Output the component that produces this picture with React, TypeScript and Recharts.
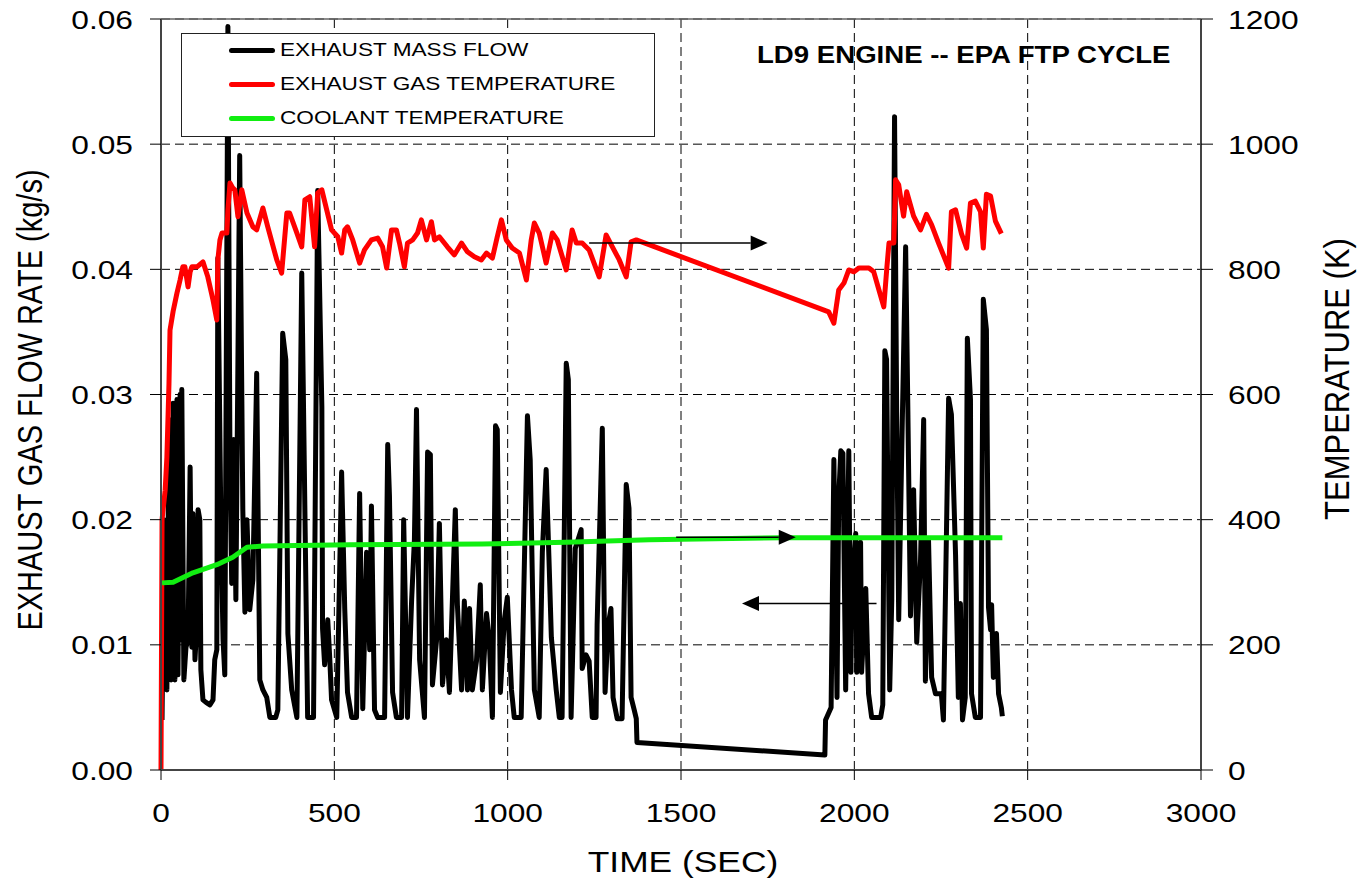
import {
  LineChart,
  Line,
  XAxis,
  YAxis,
  CartesianGrid,
  Legend,
  ReferenceLine,
} from "recharts";

// time (s) vs exhaust mass flow (kg/s)
const massFlow: [number, number][] = [
  [3, 0.004], [6, 0.012], [9, 0.02], [12, 0.0072], [14, 0.0168], [17, 0.0064],
  [23, 0.028], [29, 0.0072], [35, 0.0293], [37, 0.0104], [40, 0.0072], [46, 0.0296],
  [49, 0.0076], [55, 0.03], [58, 0.0104], [60, 0.0304], [66, 0.0072], [72, 0.0098],
  [78, 0.0104], [84, 0.0242], [89, 0.0098], [92, 0.0205], [98, 0.0088], [101, 0.0104],
  [107, 0.0208], [112, 0.02], [115, 0.008], [121, 0.0056], [130, 0.0054], [141, 0.0052],
  [150, 0.0056], [155, 0.0088], [161, 0.0096], [164, 0.0409], [173, 0.0192], [179, 0.0104],
  [184, 0.0076], [193, 0.0594], [199, 0.024], [204, 0.0149], [210, 0.0264], [216, 0.0136],
  [227, 0.0491], [236, 0.0208], [242, 0.0126], [248, 0.02], [256, 0.0128], [265, 0.0152],
  [276, 0.0317], [285, 0.0072], [294, 0.0064], [305, 0.0058], [314, 0.0042], [331, 0.0042],
  [337, 0.0048], [351, 0.0349], [360, 0.0328], [366, 0.0109], [377, 0.0064], [392, 0.0042],
  [406, 0.0397], [423, 0.0042], [440, 0.0042], [452, 0.0463], [464, 0.029], [466, 0.0113],
  [472, 0.0084], [481, 0.012], [487, 0.0088], [492, 0.0056], [507, 0.0042], [521, 0.0238],
  [530, 0.0129], [538, 0.0062], [550, 0.0042], [564, 0.0042], [573, 0.0221], [582, 0.0049],
  [593, 0.0174], [602, 0.0096], [607, 0.0211], [616, 0.0048], [625, 0.0042], [645, 0.0042],
  [654, 0.026], [659, 0.0219], [668, 0.0062], [679, 0.0042], [694, 0.0042], [700, 0.02],
  [711, 0.0042], [723, 0.0136], [731, 0.0184], [737, 0.0288], [746, 0.0088], [760, 0.0042],
  [769, 0.0254], [777, 0.0252], [783, 0.0068], [795, 0.0104], [803, 0.0197], [812, 0.0068],
  [823, 0.0104], [832, 0.0062], [849, 0.0208], [855, 0.0132], [867, 0.0064], [875, 0.0135],
  [884, 0.0064], [890, 0.0129], [898, 0.0064], [910, 0.0087], [921, 0.0148], [927, 0.0064],
  [939, 0.0125], [947, 0.0104], [956, 0.0042], [965, 0.0275], [970, 0.0272], [979, 0.0062],
  [990, 0.0119], [999, 0.0138], [1011, 0.0064], [1019, 0.0042], [1039, 0.0042], [1057, 0.0283],
  [1065, 0.0248], [1077, 0.0064], [1091, 0.0042], [1100, 0.0174], [1111, 0.024], [1120, 0.0161],
  [1126, 0.0106], [1140, 0.0064], [1149, 0.0042], [1157, 0.0042], [1169, 0.0325], [1175, 0.0312],
  [1183, 0.0042], [1195, 0.0177], [1212, 0.0192], [1215, 0.0081], [1226, 0.0092], [1235, 0.0087],
  [1244, 0.0042], [1255, 0.0042], [1258, 0.0116], [1273, 0.0273], [1281, 0.0062], [1290, 0.0116],
  [1298, 0.0129], [1304, 0.0058], [1316, 0.0041], [1330, 0.0041], [1342, 0.0228], [1350, 0.0209],
  [1356, 0.0058], [1365, 0.0048], [1371, 0.0041], [1373, 0.0022], [1915, 0.0012], [1917, 0.004],
  [1933, 0.005], [1941, 0.0248], [1950, 0.0058], [1955, 0.0218], [1961, 0.0255], [1967, 0.0253],
  [1975, 0.0064], [1984, 0.0255], [1990, 0.0078], [1993, 0.0144], [2004, 0.0189], [2007, 0.0078],
  [2018, 0.0182], [2021, 0.0078], [2033, 0.0145], [2041, 0.0061], [2050, 0.0042], [2076, 0.0042],
  [2082, 0.0052], [2088, 0.0335], [2093, 0.0328], [2102, 0.0064], [2108, 0.0136], [2116, 0.0522],
  [2122, 0.0292], [2128, 0.012], [2137, 0.0258], [2148, 0.0418], [2154, 0.0296], [2162, 0.0123],
  [2171, 0.0224], [2180, 0.0102], [2191, 0.0168], [2200, 0.028], [2205, 0.0071], [2214, 0.0184],
  [2223, 0.0074], [2234, 0.0061], [2251, 0.0061], [2257, 0.004], [2272, 0.0297], [2280, 0.0284],
  [2292, 0.0172], [2300, 0.0058], [2306, 0.0133], [2312, 0.004], [2320, 0.0058], [2326, 0.0345],
  [2335, 0.0296], [2338, 0.0061], [2349, 0.0042], [2364, 0.0042], [2372, 0.0376], [2381, 0.0352],
  [2387, 0.013], [2393, 0.0112], [2396, 0.0132], [2401, 0.0074], [2410, 0.0109], [2416, 0.0061],
  [2424, 0.005], [2427, 0.0043],
];

// time (s) vs exhaust gas temperature (K)
const gasTemp: [number, number][] = [
  [0, 0], [3, 400], [12, 447], [17, 500], [23, 617], [26, 703], [35, 733], [46, 762],
  [55, 783], [63, 804], [69, 804], [78, 772], [84, 796], [89, 804], [104, 804], [121, 812],
  [135, 788], [150, 751], [161, 719], [164, 815], [170, 847], [176, 858], [190, 858], [193, 895],
  [199, 938], [207, 930], [213, 927], [222, 884], [233, 927], [248, 890], [265, 868], [276, 863],
  [294, 898], [308, 868], [334, 815], [348, 794], [363, 890], [371, 890], [392, 858], [406, 836],
  [415, 911], [429, 916], [443, 836], [452, 922], [464, 927], [478, 895], [492, 863], [510, 852],
  [521, 826], [530, 863], [538, 868], [553, 847], [573, 810], [587, 831], [607, 847], [625, 850],
  [639, 836], [651, 802], [665, 863], [679, 863], [688, 842], [702, 804], [711, 842], [726, 847],
  [740, 858], [751, 879], [766, 847], [780, 876], [789, 847], [803, 852], [826, 836], [846, 823],
  [867, 842], [884, 828], [904, 820], [924, 815], [939, 826], [956, 818], [970, 852], [982, 879],
  [996, 847], [1013, 834], [1034, 826], [1054, 783], [1068, 847], [1077, 874], [1091, 858],
  [1111, 810], [1129, 858], [1143, 847], [1169, 799], [1186, 863], [1198, 842], [1215, 842],
  [1235, 831], [1264, 788], [1284, 855], [1302, 836], [1322, 815], [1342, 788], [1356, 844],
  [1371, 847], [1926, 732], [1941, 714], [1955, 767], [1970, 778], [1984, 799], [1999, 796],
  [2013, 802], [2042, 802], [2056, 796], [2071, 767], [2085, 740], [2094, 804], [2100, 842],
  [2114, 842], [2119, 943], [2128, 935], [2142, 885], [2151, 924], [2171, 885], [2191, 863],
  [2208, 888], [2223, 871], [2243, 842], [2272, 802], [2280, 892], [2292, 895], [2309, 857],
  [2324, 834], [2335, 906], [2349, 909], [2364, 892], [2372, 834], [2381, 920], [2393, 917],
  [2407, 877], [2424, 857],
];

// time (s) vs coolant temperature (K)
const coolantTemp: [number, number][] = [
  [3, 299], [35, 300], [92, 315], [161, 328], [207, 340], [248, 356], [294, 358],
  [544, 360], [927, 361], [1169, 364], [1408, 368], [1791, 371], [2427, 371],
];

const seriesNames = ["EXHAUST MASS FLOW", "EXHAUST GAS TEMPERATURE", "COOLANT TEMPERATURE"];
const timeTicks = [0, 500, 1000, 1500, 2000, 2500, 3000];
const flowTicks = [0, 0.01, 0.02, 0.03, 0.04, 0.05, 0.06];
const tempTicks = [0, 200, 400, 600, 800, 1000, 1200];

const W = 1358;
const H = 879;
const FONT = '"Liberation Sans", Arial, sans-serif';
const WIDE = 1.22;

const toPoints = (pairs: [number, number][]) => pairs.map(([t, v]) => ({ t, v }));

// wide-set tick label, scaled horizontally about its anchor
function WideTick(props: any) {
  const { x, y, payload, anchor, dy, format } = props;
  return (
    <g transform={`translate(${x},${y})`}>
      <text
        transform={`scale(${WIDE},1)`}
        textAnchor={anchor}
        dy={dy}
        fontSize={26}
        fontFamily={FONT}
        fill="#000"
      >
        {format(payload.value)}
      </text>
    </g>
  );
}

// annotation arrow drawn along a reference segment, head at the second point
function Arrow(props: any) {
  const { x1, y1, x2, y2 } = props;
  const len = Math.hypot(x2 - x1, y2 - y1) || 1;
  const ux = (x2 - x1) / len;
  const uy = (y2 - y1) / len;
  const bx = x2 - ux * 17;
  const by = y2 - uy * 17;
  const pts = `${x2},${y2} ${bx - uy * 7.5},${by + ux * 7.5} ${bx + uy * 7.5},${by - ux * 7.5}`;
  return (
    <g>
      <line x1={x1} y1={y1} x2={bx} y2={by} stroke="#000" strokeWidth={1.5} />
      <polygon points={pts} fill="#000" />
    </g>
  );
}

function LegendBox(props: any) {
  const items = [...(props.payload || [])].sort(
    (a: any, b: any) => seriesNames.indexOf(a.value) - seriesNames.indexOf(b.value)
  );
  return (
    <div
      style={{
        position: "relative",
        width: 474,
        height: 104,
        boxSizing: "border-box",
        border: "1px solid #222",
        background: "#fff",
      }}
    >
      {items.map((it: any, i: number) => (
        <div
          key={it.value}
          style={{
            position: "absolute",
            left: 47,
            top: 4 + i * 34,
            height: 24,
            display: "flex",
            alignItems: "center",
            whiteSpace: "nowrap",
          }}
        >
          <div style={{ width: 46, height: 5, borderRadius: 2.5, background: it.color }} />
          <span
            style={{
              marginLeft: 5,
              fontFamily: FONT,
              fontSize: 19,
              color: "#000",
              display: "inline-block",
              transform: "scaleX(1.19)",
              transformOrigin: "left center",
            }}
          >
            {it.value}
          </span>
        </div>
      ))}
    </div>
  );
}

export default function App() {
  return (
    <div
      style={{
        position: "absolute",
        left: 0,
        top: 0,
        width: W,
        height: H,
        background: "#fff",
        overflow: "hidden",
      }}
    >
      <LineChart width={W} height={H} margin={{ top: 19, right: 0, bottom: 0, left: 0 }}>
        <CartesianGrid
          yAxisId="flow"
          stroke="#000"
          strokeWidth={1}
          strokeDasharray="9 5"
        />
        <XAxis
          dataKey="t"
          type="number"
          domain={[0, 3000]}
          ticks={timeTicks}
          height={109}
          tickSize={10}
          tickMargin={0}
          axisLine={{ stroke: "#444", strokeWidth: 2 }}
          tickLine={{ stroke: "#000" }}
          tick={(p: any) => <WideTick {...p} anchor="middle" dy={42} format={(v: number) => String(v)} />}
          label={() => (
            <text
              transform={`translate(683,872) scale(${WIDE},1)`}
              textAnchor="middle"
              fontSize={29}
              fontFamily={FONT}
              fill="#000"
            >
              TIME (SEC)
            </text>
          )}
        />
        <YAxis
          yAxisId="flow"
          orientation="left"
          type="number"
          domain={[0, 0.06]}
          ticks={flowTicks}
          width={161}
          tickSize={11}
          tickMargin={17}
          axisLine={{ stroke: "#444", strokeWidth: 2 }}
          tickLine={{ stroke: "#000" }}
          tick={(p: any) => <WideTick {...p} anchor="end" dy={9.5} format={(v: number) => v.toFixed(2)} />}
          label={() => (
            <text
              transform={`translate(30,400) scale(${WIDE},1) rotate(-90)`}
              textAnchor="middle"
              dominantBaseline="central"
              fontSize={29}
              fontFamily={FONT}
              fill="#000"
            >
              EXHAUST GAS FLOW RATE (kg/s)
            </text>
          )}
        />
        <YAxis
          yAxisId="temp"
          orientation="right"
          type="number"
          domain={[0, 1200]}
          ticks={tempTicks}
          width={157}
          tickSize={12}
          tickMargin={15}
          axisLine={{ stroke: "#444", strokeWidth: 2 }}
          tickLine={{ stroke: "#000" }}
          tick={(p: any) => <WideTick {...p} anchor="start" dy={9.5} format={(v: number) => String(v)} />}
          label={() => (
            <text
              transform={`translate(1337,379) scale(1.15,1) rotate(-90)`}
              textAnchor="middle"
              dominantBaseline="central"
              fontSize={31}
              fontFamily={FONT}
              fill="#000"
            >
              TEMPERATURE (K)
            </text>
          )}
        />

        <ReferenceLine yAxisId="flow" y={0.06} stroke="#666" strokeWidth={1.5} />

        <Line
          data={toPoints(massFlow)}
          yAxisId="flow"
          dataKey="v"
          name={seriesNames[0]}
          type="linear"
          stroke="#000"
          strokeWidth={5}
          strokeLinejoin="round"
          dot={false}
          isAnimationActive={false}
        />
        <Line
          data={toPoints(gasTemp)}
          yAxisId="temp"
          dataKey="v"
          name={seriesNames[1]}
          type="linear"
          stroke="#ff0000"
          strokeWidth={5}
          strokeLinejoin="round"
          dot={false}
          isAnimationActive={false}
        />
        <Line
          data={toPoints(coolantTemp)}
          yAxisId="temp"
          dataKey="v"
          name={seriesNames[2]}
          type="linear"
          stroke="#11ee11"
          strokeWidth={5}
          strokeLinejoin="round"
          dot={false}
          isAnimationActive={false}
        />

        {/* arrows tying each curve to its axis */}
        <ReferenceLine
          yAxisId="temp"
          segment={[{ x: 1235, y: 842 }, { x: 1750, y: 842 }]}
          shape={(p: any) => <Arrow {...p} />}
        />
        <ReferenceLine
          yAxisId="temp"
          segment={[{ x: 1486, y: 372 }, { x: 1831, y: 372 }]}
          shape={(p: any) => <Arrow {...p} />}
        />
        <ReferenceLine
          yAxisId="flow"
          segment={[{ x: 2064, y: 0.0133 }, { x: 1676, y: 0.0133 }]}
          shape={(p: any) => <Arrow {...p} />}
        />

        <Legend
          layout="vertical"
          align="center"
          verticalAlign="middle"
          content={(p: any) => <LegendBox {...p} />}
          wrapperStyle={{ left: 181, top: 33, width: 474, height: 104 }}
        />
      </LineChart>

      <div
        style={{
          position: "absolute",
          left: 757,
          top: 44,
          fontFamily: FONT,
          fontWeight: "bold",
          fontSize: 23,
          lineHeight: "23px",
          whiteSpace: "nowrap",
          transform: `scaleX(1.2)`,
          transformOrigin: "left top",
          color: "#000",
        }}
      >
        LD9 ENGINE -- EPA FTP CYCLE
      </div>
    </div>
  );
}
